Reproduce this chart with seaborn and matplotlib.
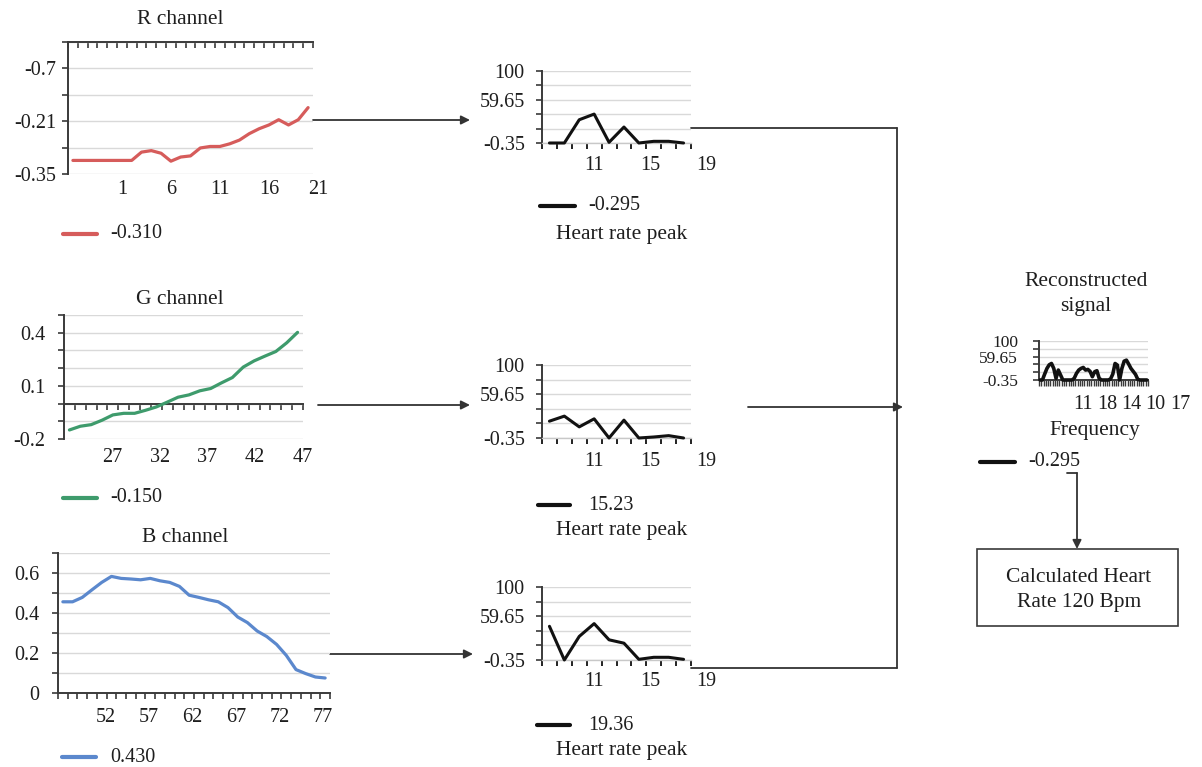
import numpy as np
import pandas as pd
import matplotlib
matplotlib.use("Agg")
import matplotlib.pyplot as plt
import seaborn as sns
from matplotlib.patches import Rectangle

# ---------------- data ----------------
r_values = [-0.314, -0.314, -0.314, -0.314, -0.314, -0.314, -0.314, -0.292, -0.288,
            -0.295, -0.316, -0.305, -0.302, -0.281, -0.277, -0.277, -0.270, -0.260,
            -0.243, -0.230, -0.220, -0.206, -0.220, -0.206, -0.174]
r_xlabels = ["1", "6", "11", "16", "21"]
r_yticks = [-0.35, -0.28, -0.21, -0.14, -0.07, 0.0]
r_ylabels = ["-0.35", "", "-0.21", "", "-0.7", ""]

g_values = [-0.149, -0.128, -0.119, -0.094, -0.064, -0.055, -0.055, -0.038, -0.019,
            0.008, 0.036, 0.049, 0.072, 0.085, 0.117, 0.147, 0.206, 0.241, 0.268,
            0.294, 0.343, 0.402]
g_xlabels = ["27", "32", "37", "42", "47"]
g_yticks = [-0.2, -0.1, 0.0, 0.1, 0.2, 0.3, 0.4, 0.5]
g_ylabels = ["-0.2", "", "", "0.1", "", "", "0.4", ""]

b_values = [0.456, 0.456, 0.478, 0.516, 0.553, 0.583, 0.573, 0.570, 0.566, 0.573,
            0.561, 0.553, 0.533, 0.489, 0.478, 0.466, 0.456, 0.427, 0.380, 0.352,
            0.310, 0.282, 0.243, 0.188, 0.117, 0.097, 0.080, 0.075]
b_xlabels = ["52", "57", "62", "67", "72", "77"]
b_yticks = [0.0, 0.1, 0.2, 0.3, 0.4, 0.5, 0.6, 0.7]
b_ylabels = ["0", "", "0.2", "", "0.4", "", "0.6", ""]

hr1_values = [-0.35, -0.35, 31.95, 39.8, 0.57, 21.8, -0.35, 1.96, 1.96, -0.35]
hr2_values = [22.7, 29.6, 14.9, 25.9, -0.35, 24.1, -0.35, 1.03, 2.88, -0.35]
hr3_values = [45.8, -0.35, 31.95, 49.5, 27.3, 22.7, 0.57, 3.34, 3.34, 0.57]
hr_xlabels = ["11", "15", "19"]
hr_yticks = [-0.35, 19.65, 39.65, 59.65, 79.65, 99.65]
hr_ylabels = ["-0.35", "", "", "59.65", "", "100"]
hr_legend = ["-0.295", "15.23", "19.36"]

rec_values = [-0.35, -0.35, 14.9, 29.3, 38.6, 42.0, 29.3, 3.9, 25.1, 12.4, -0.35, -0.35,
              -0.35, -0.35, -0.35, 3.9, 16.6, 25.1, 29.3, 31.8, 25.1, 26.8, 21.7, 8.1,
              20.8, 23.4, 3.9, -0.35, -0.35, -0.35, -0.35, 2.2, 14.9, 42.0, 37.8, -0.35,
              29.3, 47.9, 50.5, 40.3, 29.3, 21.7, 14.0, 1.3, -0.35, -0.35, -0.35, -0.35]
rec_xlabels = ["11", "18", "14", "10", "17"]
rec_legend = "-0.295"

channel_legend = ["-0.310", "-0.150", "0.430"]

# ---------------- style ----------------
sns.set_theme(style="white")
plt.rcParams["font.family"] = ["Liberation Serif", "DejaVu Serif"]

W, H = 1202, 767
DARK = "#3a3a3a"
GRID = "#d9d9d9"
RED, GREEN, BLUE = "#d65c5b", "#3e9b6c", "#5b88cd"
FS = 14.5
TFS = 15.5
TXT = "#1e1e1e"

fig = plt.figure(figsize=(W / 100, H / 100), dpi=100)
fig.patch.set_facecolor("white")

ov = fig.add_axes([0, 0, 1, 1], zorder=0)
ov.set_xlim(0, W)
ov.set_ylim(H, 0)
ov.axis("off")
ov.patch.set_visible(False)


def rect(l, t, r, b):
    return [l / W, 1 - b / H, (r - l) / W, (b - t) / H]


def panel(box, values, color, lw, ylim, yticks, ylabels, ypad, xlab_pos, xlabels,
          xlab_y, xaxis_mode, fs=FS, yfs=None):
    l, t, r, b = box
    ax = fig.add_axes(rect(l, t, r, b), zorder=2)
    ax.patch.set_visible(False)
    n = len(values)
    df = pd.DataFrame({"idx": np.arange(n), "val": values})
    sns.lineplot(data=df, x="idx", y="val", ax=ax, color=color, linewidth=lw,
                 clip_on=False, zorder=3)
    ax.set_xlim(-0.5, n - 0.5)
    ax.set_ylim(*ylim)
    ax.set_xlabel("")
    ax.set_ylabel("")
    ax.set_yticks(yticks)
    ax.set_yticklabels(ylabels)
    ax.yaxis.grid(True, color=GRID, linewidth=1.0)
    ax.xaxis.grid(False)
    ax.set_axisbelow(True)
    for s in ax.spines.values():
        s.set_visible(False)
    ax.spines["left"].set_visible(True)
    ax.spines["left"].set_color(DARK)
    ax.spines["left"].set_linewidth(1.4)
    ax.tick_params(axis="y", left=True, direction="out", length=4.5, width=1.2,
                   color=DARK, pad=ypad, labelsize=yfs or fs, labelcolor=TXT)
    ax.set_xticks(np.arange(-0.5, n, 1.0))
    ax.set_xticklabels([])
    if xaxis_mode == "top":
        ax.xaxis.tick_top()
        ax.spines["top"].set_visible(True)
        ax.spines["top"].set_color(DARK)
        ax.spines["top"].set_linewidth(1.4)
        ax.tick_params(axis="x", top=True, bottom=False, direction="in", length=4.5,
                       width=1.2, color=DARK, labeltop=False)
    elif xaxis_mode == "zero":
        ax.spines["bottom"].set_visible(True)
        ax.spines["bottom"].set_position(("data", 0))
        ax.spines["bottom"].set_color(DARK)
        ax.spines["bottom"].set_linewidth(1.4)
        ax.tick_params(axis="x", bottom=True, direction="out", length=4.5, width=1.2,
                       color=DARK, labelbottom=False)
    elif xaxis_mode == "light":
        ax.spines["bottom"].set_visible(True)
        ax.spines["bottom"].set_color("#c8c8c8")
        ax.spines["bottom"].set_linewidth(1.0)
        ax.tick_params(axis="x", bottom=True, direction="out", length=4.5, width=1.4,
                       color="#222222", labelbottom=False)
    else:
        ax.spines["bottom"].set_visible(True)
        ax.spines["bottom"].set_color(DARK)
        ax.spines["bottom"].set_linewidth(1.4)
        ax.tick_params(axis="x", bottom=True, direction="out", length=4.0, width=1.0,
                       color=DARK, labelbottom=False)
    tr = ax.get_xaxis_transform()
    yfrac = (b - xlab_y) / (b - t)
    for p, s in zip(xlab_pos, xlabels):
        ax.text(p, yfrac, s, transform=tr, ha="center", va="center", fontsize=fs,
                color=TXT, clip_on=False)
    return ax


# channel panels
panel((68, 42, 313, 174), r_values, RED, 2.3, (-0.35, 0.0), r_yticks, r_ylabels, 4,
      np.linspace(5, 25, 5), r_xlabels, 190, "top")
panel((64, 315, 303, 439), g_values, GREEN, 2.3, (-0.2, 0.5), g_yticks, g_ylabels, 9,
      np.linspace(3.9, 21.5, 5), g_xlabels, 457, "zero")
panel((58, 553, 330, 693), b_values, BLUE, 2.3, (0.0, 0.7), b_yticks, b_ylabels, 9,
      np.linspace(4.4, 26.8, 6), b_xlabels, 718, "zero")

# heart-rate panels
hr_boxes = [(542, 71, 691, 143), (542, 365, 691, 438), (542, 587, 691, 660)]
hr_lab_y = [165, 461, 682]
for box, vals, ly in zip(hr_boxes, [hr1_values, hr2_values, hr3_values], hr_lab_y):
    panel(box, vals, "#111111", 2.2, (-0.35, 99.65), hr_yticks, hr_ylabels, 8,
          np.linspace(3.0, 10.5, 3), hr_xlabels, ly, "light")

# reconstructed panel
axr = panel((1039, 341, 1148, 380), rec_values, "#111111", 2.6, (-0.35, 99.65),
            hr_yticks, hr_ylabels, 11, np.linspace(18.9, 61.6, 5), rec_xlabels, 404,
            "dark", yfs=12.5)
axr.tick_params(axis="y", length=4.0)

# ---------------- annotations (overlay) ----------------
ov.text(180, 20, "R channel", ha="center", va="center", fontsize=TFS, color=TXT)
ov.text(180, 299, "G channel", ha="center", va="center", fontsize=TFS, color=TXT)
ov.text(185, 537, "B channel", ha="center", va="center", fontsize=TFS, color=TXT)

for (x0, x1, y), c, s in zip([(63, 97, 234), (63, 97, 498), (62, 96, 757)],
                             [RED, GREEN, BLUE], channel_legend):
    ov.plot([x0, x1], [y, y], color=c, lw=3)
    ov.text(110, y, s, ha="left", va="center", fontsize=FS, color=TXT)

for (x0, x1, y), s, yh in zip([(540, 575, 206), (538, 570, 505), (537, 570, 725)],
                              hr_legend, [235, 530, 750]):
    ov.plot([x0, x1], [y, y], color="#111111", lw=3)
    ov.text(588, y, s, ha="left", va="center", fontsize=FS, color=TXT)
    ov.text(622, yh, "Heart rate peak", ha="center", va="center", fontsize=TFS,
            color=TXT)

ov.text(1086, 281, "Reconstructed", ha="center", va="center", fontsize=TFS, color=TXT)
ov.text(1086, 306, "signal", ha="center", va="center", fontsize=TFS, color=TXT)
ov.text(1095, 430, "Frequency", ha="center", va="center", fontsize=TFS, color=TXT)
ov.plot([980, 1015], [462, 462], color="#111111", lw=3)
ov.text(1028, 462, rec_legend, ha="left", va="center", fontsize=FS, color=TXT)

ov.add_patch(Rectangle((977, 549), 201, 77, fill=False, edgecolor=DARK, lw=1.2))
ov.text(1079, 577, "Calculated Heart", ha="center", va="center", fontsize=TFS,
        color=TXT)
ov.text(1079, 602, "Rate 120 Bpm", ha="center", va="center", fontsize=TFS, color=TXT)

LC = "#333333"
ap = dict(arrowstyle="-|>", color=LC, lw=1.3, mutation_scale=13, shrinkA=0, shrinkB=0)
ov.annotate("", xy=(470, 120), xytext=(313, 120), arrowprops=ap)
ov.annotate("", xy=(470, 405), xytext=(318, 405), arrowprops=ap)
ov.annotate("", xy=(473, 654), xytext=(330, 654), arrowprops=ap)
ov.plot([691, 897], [128, 128], color=LC, lw=1.3)
ov.plot([897, 897], [128, 668], color=LC, lw=1.3)
ov.plot([691, 897], [668, 668], color=LC, lw=1.3)
ov.annotate("", xy=(903, 407), xytext=(748, 407), arrowprops=ap)
ov.plot([1067, 1077], [473, 473], color=LC, lw=1.3)
ov.annotate("", xy=(1077, 549), xytext=(1077, 473), arrowprops=ap)

fig.savefig("out.png", dpi=100, facecolor="white")
